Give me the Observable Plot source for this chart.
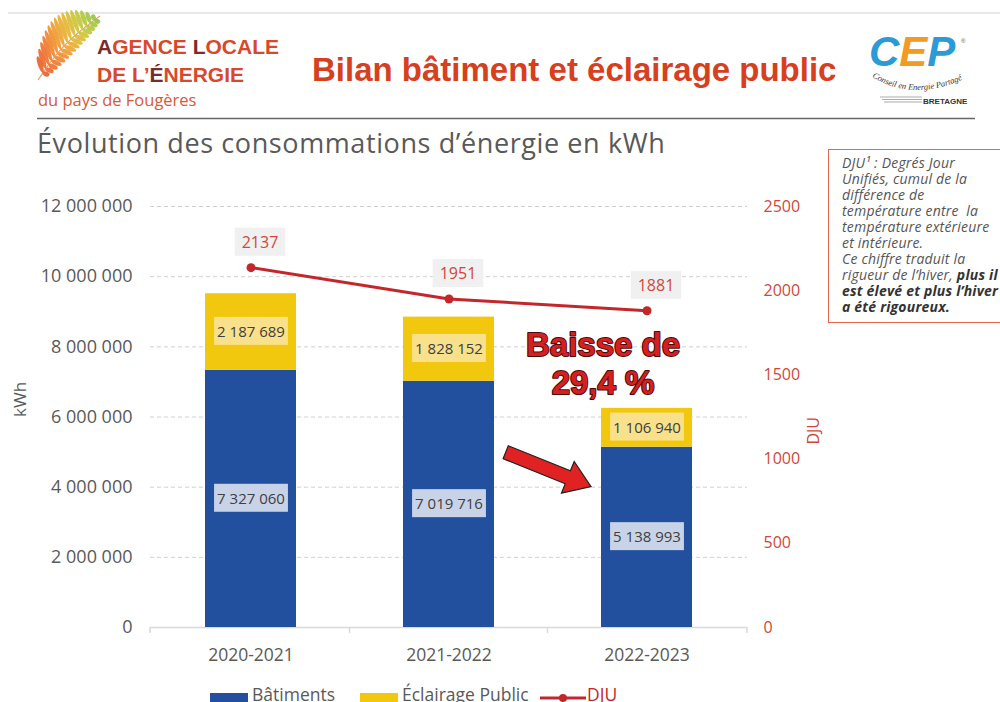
<!DOCTYPE html>
<html><head><meta charset="utf-8">
<script src="https://cdn.jsdelivr.net/npm/d3@7"></script>
<script src="https://cdn.jsdelivr.net/npm/@observablehq/plot@0.6"></script>
<style>
html,body{margin:0;padding:0;background:#fff;}
body{width:1000px;height:702px;overflow:hidden;position:relative;font-family:"Open Sans",sans-serif;}
.abs{position:absolute;}
#note{left:828px;top:149px;width:190px;height:174px;border:1.5px solid #e2684a;box-sizing:border-box;padding:5px 0 0 13px;font-style:italic;font-size:14px;letter-spacing:0.2px;line-height:16px;color:#555;white-space:nowrap;background:#fff;}
#note b{font-weight:700;color:#333;}
.leg{position:absolute;top:683px;font-size:17.5px;line-height:22px;color:#595959;white-space:nowrap;}
.sw{position:absolute;top:693px;height:12px;}
</style></head><body>
<svg class="abs" id="header" style="left:0;top:0" width="1000" height="180">
  <defs>
    <linearGradient id="lg" x1="0" x2="1" y1="0" y2="0">
      <stop offset="0" stop-color="#e55a35"/><stop offset="0.55" stop-color="#f2b13a"/><stop offset="1" stop-color="#8cc152"/>
    </linearGradient>
  </defs>
  <line x1="8" x2="1000" y1="13" y2="13" stroke="#e8e8e8" stroke-width="2"/>
  <g id="fern"></g>
  <text x="97" y="54" font-family="Liberation Sans" font-weight="bold" font-size="21" fill="#d9482b"><tspan fill="#7a2b2b">A</tspan>GENCE <tspan fill="#7a2b2b">L</tspan>OCALE</text>
  <text x="97" y="82" font-family="Liberation Sans" font-weight="bold" font-size="21" fill="#d9482b">DE L’<tspan fill="#7a2b2b">É</tspan>NERGIE</text>
  <line x1="33" x2="280" y1="90" y2="90" stroke="url(#lg)" stroke-width="1.6"/>
  <text x="38" y="106" font-family="Open Sans" font-size="16.5" fill="#d65a35">du pays de Fougères</text>
  <line x1="37" x2="975" y1="118.5" y2="118.5" stroke="#666" stroke-width="1.5"/>
  <text x="312" y="81" font-family="Liberation Sans" font-weight="bold" font-size="33" fill="#d6401e">Bilan bâtiment et éclairage public</text>
  <text x="869" y="66" font-family="Liberation Sans" font-weight="bold" font-style="italic" font-size="42"><tspan fill="#2b9ad6">C</tspan><tspan fill="#f19a25">E</tspan><tspan fill="#2b9ad6">P</tspan></text>
  <text x="961" y="43" font-family="Liberation Sans" font-size="6" fill="#555">®</text>
  <path id="cepcurve" d="M872,77 Q915,103 968,77" fill="none"/>
  <text font-family="Liberation Serif" font-style="italic" font-size="8.5" fill="#333"><textPath href="#cepcurve">Conseil en Energie Partagé</textPath></text>
  <g stroke="#888" stroke-width="0.7">
    <line x1="880" x2="922" y1="97" y2="97"/><line x1="882" x2="922" y1="99.5" y2="99.5"/>
    <line x1="884" x2="922" y1="102" y2="102"/>
  </g>
  <text x="923" y="104" font-family="Liberation Sans" font-weight="bold" font-size="8" fill="#333">BRETAGNE</text>
  <text x="37" y="153" font-family="Open Sans" font-size="27" letter-spacing="0.6" fill="#595959">Évolution des consommations d’énergie en kWh</text>
</svg>
<div class="abs" id="note">DJU¹ : Degrés Jour<br>Unifiés, cumul de la<br>différence de<br>température entre &nbsp;la<br>température extérieure<br>et intérieure.<br>Ce chiffre traduit la<br>rigueur de l’hiver, <b>plus il</b><br><b>est élevé et plus l’hiver</b><br><b>a été rigoureux.</b></div>
<div class="abs" id="chart" style="left:0;top:180px"></div>
<div id="legend"></div>
<script>
// ---- data ----
const years = ["2020-2021", "2021-2022", "2022-2023"];
const seriesNames = ["Bâtiments", "Éclairage Public", "DJU"];
const batiments = [7327060, 7019716, 5138993];
const eclairage = [2187689, 1828152, 1106940];
const dju = [2137, 1951, 1881];
const kwhTicks = [0, 2000000, 4000000, 6000000, 8000000, 10000000, 12000000];
const djuTicks = [0, 500, 1000, 1500, 2000, 2500];
const annotation = "Baisse de\n29,4 %";

// ---- derived tables ----
const kwhMax = 12000000, djuMax = 2500, k = kwhMax / djuMax;
const fmt = v => d3.format(",")(v).replace(/,/g, "\u00a0");
const stacked = [];
years.forEach((y, i) => {
  stacked.push({year: y, series: seriesNames[0], value: batiments[i], mid: batiments[i] / 2});
  stacked.push({year: y, series: seriesNames[1], value: eclairage[i], mid: batiments[i] + eclairage[i] / 2});
});
const djuData = years.map((y, i) => ({year: y, dju: dju[i]}));

const blue = "#22509e", yellow = "#f2c80f", red = "#c3272b", axisRed = "#d0473a", gray = "#595959";

const plot = Plot.plot({
  width: 830, height: 490,
  marginTop: 26, marginBottom: 43, marginLeft: 150, marginRight: 83,
  style: {fontFamily: "Open Sans", background: "transparent", overflow: "visible"},
  x: {domain: years, paddingInner: 0.538, paddingOuter: 0.271, axis: null},
  y: {domain: [0, kwhMax], axis: null},
  color: {domain: seriesNames.slice(0, 2), range: [blue, yellow]},
  marks: [
    Plot.gridY(kwhTicks.slice(1), {stroke: "#d0d0d0", strokeOpacity: 1, strokeDasharray: "4,3"}),
    Plot.ruleY([0], {stroke: "#d9d9d9", strokeWidth: 1.5}),
    Plot.barY(stacked, {x: "year", y: "value", fill: "series"}),
    Plot.text(stacked.filter(d => d.series === seriesNames[0]), {x: "year", y: "mid", text: d => fmt(d.value), fontSize: 15, fill: "#404040", ariaDescription: "lbl-bat"}),
    Plot.text(stacked.filter(d => d.series === seriesNames[1]), {x: "year", y: "mid", text: d => fmt(d.value), fontSize: 15, fill: "#404040", ariaDescription: "lbl-ecl"}),
    Plot.line(djuData, {x: "year", y: d => d.dju * k, stroke: red, strokeWidth: 3}),
    Plot.dot(djuData, {x: "year", y: d => d.dju * k, r: 4.5, fill: red}),
    Plot.text(djuData, {x: "year", y: d => d.dju * k, text: d => String(d.dju), dx: 9, dy: -25, fontSize: 16, fill: axisRed, ariaDescription: "lbl-dju"}),
    Plot.axisY(kwhTicks, {anchor: "left", tickFormat: fmt, tickSize: 0, tickPadding: 18, fontSize: 18, color: gray, label: null}),
    Plot.axisY(djuTicks.map(v => v * k), {anchor: "right", tickFormat: v => String(Math.round(v / k)), tickSize: 0, tickPadding: 16, fontSize: 16, color: axisRed, label: null}),
    Plot.axisX({tickSize: 0, tickPadding: 21, fontSize: 17.5, color: gray, label: null}),
    Plot.text(["kWh"], {frameAnchor: "left", dx: -130, rotate: -90, fontSize: 17, fill: gray}),
    Plot.text(["DJU"], {frameAnchor: "right", dx: 66, rotate: -90, fontSize: 16, fill: axisRed}),
    Plot.text([annotation], {x: () => years[2], y: () => 7550000, dx: -44, fontSize: 33, fontWeight: "bold", fontFamily: "Liberation Sans", lineHeight: 1.15, fill: "#d42020", stroke: "#4a0808", strokeWidth: 2, paintOrder: "stroke"})
  ]
});
document.getElementById("chart").appendChild(plot);

// label boxes behind texts
function addBoxes(label, fill, padX, padY) {
  plot.querySelectorAll(`g[aria-description="${label}"] text`).forEach(t => {
    const b = t.getBBox();
    const r = document.createElementNS("http://www.w3.org/2000/svg", "rect");
    r.setAttribute("x", b.x - padX); r.setAttribute("y", b.y - padY);
    r.setAttribute("width", b.width + 2 * padX); r.setAttribute("height", b.height + 2 * padY);
    r.setAttribute("fill", fill);
    if (t.getAttribute("transform")) r.setAttribute("transform", t.getAttribute("transform"));
    t.parentNode.insertBefore(r, t);
  });
}
addBoxes("lbl-bat", "#c9d3e8", 3, 4);
addBoxes("lbl-ecl", "#f8e18a", 3, 4);
addBoxes("lbl-dju", "#f0f0f0", 7, 3);

// category boundary ticks and arrow, positioned through the plot scales
const sx = plot.scale("x"), sy = plot.scale("y");
const NS = "http://www.w3.org/2000/svg";
const centers = years.map(y => sx.apply(y) + sx.bandwidth / 2);
const bounds = [sx.range[0], ...centers.slice(1).map((c, i) => (c + centers[i]) / 2), sx.range[1]];
const y0 = sy.apply(0);
bounds.forEach(bx => {
  const l = document.createElementNS(NS, "line");
  l.setAttribute("x1", bx); l.setAttribute("x2", bx);
  l.setAttribute("y1", y0); l.setAttribute("y2", y0 + 6);
  l.setAttribute("stroke", "#d9d9d9"); l.setAttribute("stroke-width", 1.5);
  plot.appendChild(l);
});
// arrow pointing at the last bar
const tipX = sx.apply(years[2]) - 10, tipY = sy.apply(4000000);
const ang = 22 * Math.PI / 180, len = 92, sh = 7, hh = 17, hl = 25;
const pts = [[0, -sh], [len - hl, -sh], [len - hl, -hh], [len, 0], [len - hl, hh], [len - hl, sh], [0, sh]];
const ca = Math.cos(ang), sa = Math.sin(ang);
const tx = tipX - len * ca, ty = tipY - len * sa;
const d = "M" + pts.map(([px, py]) => [tx + px * ca - py * sa, ty + px * sa + py * ca].map(v => v.toFixed(1)).join(",")).join("L") + "Z";
const arrow = document.createElementNS(NS, "path");
arrow.setAttribute("d", d); arrow.setAttribute("fill", "#e02222");
arrow.setAttribute("stroke", "#222"); arrow.setAttribute("stroke-width", 1.2);
arrow.setAttribute("stroke-linejoin", "miter");
plot.appendChild(arrow);

// legend
const legend = document.getElementById("legend");
legend.innerHTML =
  `<div class="sw" style="left:210px;width:38px;background:${blue}"></div>` +
  `<div class="leg" style="left:252px">${seriesNames[0]}</div>` +
  `<div class="sw" style="left:360px;width:38px;background:${yellow}"></div>` +
  `<div class="leg" style="left:402px">${seriesNames[1]}</div>` +
  `<svg style="position:absolute;left:540px;top:690px" width="46" height="14"><line x1="0" x2="46" y1="8" y2="8" stroke="${red}" stroke-width="3"/><circle cx="23" cy="8" r="4" fill="${red}"/></svg>` +
  `<div class="leg" style="left:587px;color:${red}">${seriesNames[2]}</div>`;

// fern logo (decoration)
const fern = document.getElementById("fern");
const col = d3.interpolateRgbBasis(["#e8502d", "#ee742c", "#f5a82b", "#c8cf36", "#7cbf45"]);
const P = t => [38 + 62 * t - 4 * Math.sin(Math.PI * t), 80 - 64 * t - 3 * Math.sin(Math.PI * t)];
let html = `<path d="M${d3.range(0, 1.01, 0.05).map(t => P(t).join(",")).join("L")}" stroke="#e9a070" stroke-width="1.2" fill="none"/>`;
for (let t = 0.1; t <= 0.96; t += 0.055) {
  const [px, py] = P(t);
  const base = Math.atan2(-64, 62);
  const L1 = 6 + 24 * Math.pow(Math.sin(Math.PI * Math.min(1, t * 1.1)), 0.7);
  const L2 = 3 + 10 * Math.pow(Math.sin(Math.PI * t), 0.8);
  [[base - 1.1, L1], [base + 1.2, L2]].forEach(([a, L]) => {
    const cx = px + Math.cos(a) * L / 2, cy = py + Math.sin(a) * L / 2;
    html += `<ellipse cx="${cx.toFixed(1)}" cy="${cy.toFixed(1)}" rx="${(L / 2).toFixed(1)}" ry="2.4" transform="rotate(${(a * 180 / Math.PI).toFixed(1)} ${cx.toFixed(1)} ${cy.toFixed(1)})" fill="${col(t)}" opacity="0.9"/>`;
  });
}
fern.innerHTML = html;
</script>
</body></html>
